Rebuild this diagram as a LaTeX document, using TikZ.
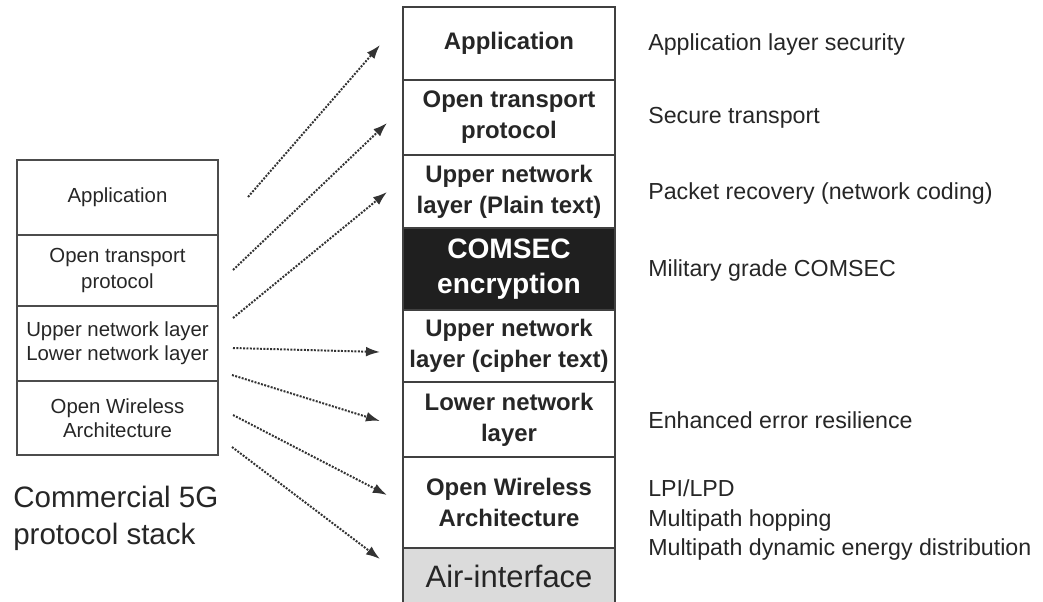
\documentclass[tikz,border=0pt]{standalone}
\usepackage{fontspec}
\setmainfont{Liberation Sans}
\usetikzlibrary{arrows.meta}

\tikzset{
  layer/.style={draw=black!75, line width=1.1pt, minimum width=5.3cm, inner sep=0pt,
    align=center, text=black!85, font=\fontsize{17}{22}\selectfont\bfseries},
  oldlayer/.style={draw=black!70, line width=1pt, minimum width=5.025cm, inner sep=0pt,
    align=center, text=black!85, font=\fontsize{14.5}{17}\selectfont},
  feature/.style={anchor=west, inner sep=0pt, align=left, text=black!85,
    font=\fontsize{16.5}{21.3}\selectfont},
  flow/.style={densely dotted, line width=1.4pt, draw=black!80,
    -{Latex[length=10pt, width=7pt]}}
}

\begin{document}
\begin{tikzpicture}[x=0.025cm, y=-0.025cm]
    \clip (0,0) rectangle (1043,601);
    % secure stack
    \node[layer, minimum height=1.825cm] (sapp) at (509,43.5) {Application};
    \node[layer, minimum height=1.875cm] (stra) at (509,117.5) {Open transport\\protocol};
    \node[layer, minimum height=1.825cm] (supl) at (509,191.5) {Upper network\\layer (Plain text)};
    \node[layer, minimum height=2.05cm, fill=black!88, text=white,
      font=\fontsize{20}{25}\selectfont\bfseries] (scom) at (509,269) {COMSEC\\encryption};
    \node[layer, minimum height=1.8cm] (supc) at (509,346) {Upper network\\layer (cipher text)};
    \node[layer, minimum height=1.875cm] (slow) at (509,419.5) {Lower network\\layer};
    \node[layer, minimum height=2.275cm] (sowa) at (509,502.5) {Open Wireless\\Architecture};
    \node[layer, minimum height=1.4cm, fill=black!14,
      font=\fontsize{22}{26}\selectfont] (sair) at (509,576) {Air-interface};
    % commercial stack
    \node[oldlayer, minimum height=1.875cm] (capp) at (117.5,197.5) {Application};
    \node[oldlayer, minimum height=1.775cm] (ctra) at (117.5,270.5) {Open transport\\[2pt]protocol};
    \node[oldlayer, minimum height=1.875cm] (cnet) at (117.5,343.5) {Upper network layer\\Lower network layer};
    \node[oldlayer, minimum height=1.85cm] (cowa) at (117.5,418) {Open Wireless\\Architecture};
    \node[anchor=west, inner sep=0pt, align=left, text=black!85,
      font=\fontsize{21}{26.2}\selectfont] (cname) at (13,518) {Commercial 5G\\protocol stack};
    % features
    \node[feature] (fsec) at (648,44) {Application layer security};
    \node[feature] (ftrn) at (648,118) {Secure transport};
    \node[feature] (frec) at (648,193) {Packet recovery (network coding)};
    \node[feature] (fmil) at (648,270) {Military grade COMSEC};
    \node[feature] (fres) at (648,420) {Enhanced error resilience};
    \node[feature] (flpi) at (648,520) {LPI/LPD\\Multipath hopping\\Multipath dynamic energy distribution};
    % arrow ends
    \coordinate (t1) at (248,197);  \coordinate (h1) at (380,45);
    \coordinate (t2) at (233,270);  \coordinate (h2) at (387,123);
    \coordinate (t3) at (233,318);  \coordinate (h3) at (387,192);
    \coordinate (t4) at (233,348);  \coordinate (h4) at (380,352);
    \coordinate (t5) at (232,375);  \coordinate (h5) at (380,421);
    \coordinate (t6) at (233,415);  \coordinate (h6) at (387,495);
    \coordinate (t7) at (232,447);  \coordinate (h7) at (380,559);
    \foreach \i in {1,...,7}
      \draw[flow] (t\i) -- (h\i);
\end{tikzpicture}
\end{document}
